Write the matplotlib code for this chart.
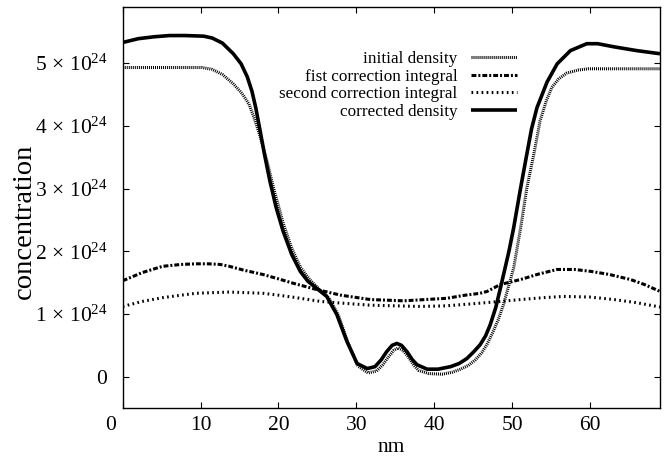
#!/usr/bin/python3

import matplotlib
matplotlib.use('Agg')
import matplotlib.pyplot as plt
from matplotlib.ticker import FuncFormatter
from matplotlib.transforms import ScaledTranslation

# all concentrations below are in units of 1e24, x positions in nm
SCALE = 1e24

initial_x = [0, 5, 10.2, 11.5, 12.8, 14.2, 15.3, 16.2, 16.9, 17.6, 18.5, 19.5, 20.6, 21.7, 22.8, 24.0,
	25.2, 26.5, 27.7, 28.9, 30.2, 31.5, 32.6, 33.4, 34.1, 34.8, 35.4, 36.0, 36.7, 37.4, 38.0,
	39.3, 41.0, 42.3, 43.4, 44.4, 45.3, 46.1, 46.8, 47.5, 48.2, 48.9, 49.5, 50.2, 51.1, 51.9,
	52.8, 53.6, 54.4, 55.1, 56.0, 57.0, 58.5, 59.8, 69]
initial_y = [4.93, 4.93, 4.93, 4.90, 4.82, 4.67, 4.52, 4.35, 4.12, 3.85, 3.45, 2.95, 2.45, 2.05, 1.75, 1.55,
	1.40, 1.25, 0.98, 0.55, 0.17, 0.06, 0.09, 0.19, 0.31, 0.42, 0.46, 0.42, 0.31, 0.18, 0.10,
	0.05, 0.04, 0.07, 0.12, 0.18, 0.27, 0.38, 0.52, 0.70, 0.90, 1.15, 1.42, 1.73, 2.37, 3.01,
	3.55, 4.08, 4.40, 4.61, 4.75, 4.84, 4.89, 4.91, 4.91]

first_x = [0, 2.5, 5.1, 7.5, 9.4, 11, 12.5, 13.7, 15.5, 18.0, 20, 21.9, 24.9, 28, 31.8, 36.1,
	41.6, 44, 45.9, 46.8, 48.5, 51.1, 53.5, 55.8, 58, 60.1, 62.5, 65.2, 67, 69]
first_y = [1.53, 1.66, 1.76, 1.79, 1.80, 1.80, 1.79, 1.76, 1.70, 1.63, 1.56, 1.49, 1.39, 1.30, 1.23, 1.21,
	1.25, 1.30, 1.33, 1.36, 1.47, 1.55, 1.64, 1.71, 1.71, 1.68, 1.63, 1.55, 1.47, 1.36]

second_x = [0, 2.5, 5.1, 7.5, 9.4, 11.5, 13.7, 16, 18, 20, 22.3, 25.4, 28.5, 31.8, 35, 38.2,
	41.5, 44.7, 48.5, 51.1, 54, 56.6, 60, 63.1, 66, 68.6, 69]
second_y = [1.12, 1.20, 1.26, 1.30, 1.33, 1.34, 1.35, 1.34, 1.33, 1.30, 1.26, 1.20, 1.17, 1.14, 1.13, 1.12,
	1.13, 1.16, 1.20, 1.23, 1.26, 1.28, 1.27, 1.23, 1.18, 1.12, 1.11]

corrected_x = [0, 2, 4, 6, 8, 10.4, 11.5, 12.8, 14.2, 15.2, 16.0, 16.6, 17.1, 17.6, 18.2, 18.9, 19.7,
	20.6, 21.7, 22.8, 23.8, 24.9, 26.2, 27.5, 28.8, 30.1, 31.4, 32.4, 33.2, 33.9, 34.6, 35.2,
	35.8, 36.5, 37.2, 37.8, 39.1, 40.5, 42.1, 43.2, 44.2, 45.1, 45.9, 46.6, 47.2, 47.9, 48.5,
	49.1, 49.6, 50.2, 51.1, 51.9, 52.5, 53.2, 54.5, 55.8, 57.5, 59.6, 61, 63.1, 66, 69]
corrected_y = [5.33, 5.39, 5.42, 5.44, 5.44, 5.43, 5.40, 5.32, 5.15, 4.99, 4.78, 4.55, 4.28, 3.95, 3.55,
	3.12, 2.70, 2.32, 1.95, 1.68, 1.52, 1.41, 1.28, 0.99, 0.56, 0.21, 0.13, 0.16, 0.27, 0.40,
	0.50, 0.53, 0.50, 0.40, 0.27, 0.19, 0.12, 0.12, 0.16, 0.21, 0.29, 0.40, 0.51, 0.65, 0.83,
	1.10, 1.41, 1.73, 2.00, 2.37, 3.01, 3.55, 3.95, 4.29, 4.70, 4.99, 5.20, 5.31, 5.31, 5.26,
	5.20, 5.15]

labels = ['initial density', 'fist correction integral', 'second correction integral', 'corrected density']
x_ticks = [0, 10, 20, 30, 40, 50, 60]
y_ticks = [0, 1, 2, 3, 4, 5]


def sci_label(v, pos):
	'''gnuplot style "n x 10^24" tick labels'''
	n = int(round(v / SCALE))
	if n == 0:
		return '0'
	return r'$%d\,\times\,10^{24}$' % n


def scaled(values):
	return [v * SCALE for v in values]


def main():
	plt.rcParams['font.family'] = 'Liberation Serif'
	plt.rcParams['mathtext.fontset'] = 'custom'
	plt.rcParams['mathtext.rm'] = 'Liberation Serif'
	plt.rcParams['mathtext.it'] = 'Liberation Serif:italic'
	plt.rcParams['mathtext.bf'] = 'Liberation Serif:bold'

	fig = plt.figure(figsize=(6.67, 4.59), dpi=100)
	ax = fig.add_axes([0.184, 0.111, 0.8055, 0.8744])

	# hatched grey look of the thick gnuplot dotted line
	ax.plot(initial_x, scaled(initial_y), color='black', linewidth=2.2,
		dashes=(0.33, 0.33), dash_capstyle='butt', label=labels[0])
	ax.plot(first_x, scaled(first_y), color='black', linewidth=2.2,
		dashes=(1.6, 0.65, 0.65, 0.65), dash_capstyle='butt', label=labels[1])
	ax.plot(second_x, scaled(second_y), color='black', linewidth=2.2,
		dashes=(0.55, 1.1), dash_capstyle='butt', label=labels[2])
	ax.plot(corrected_x, scaled(corrected_y), color='black', linewidth=2.6,
		solid_capstyle='butt', label=labels[3])

	ax.set_xlim(0, 69)
	ax.set_ylim(-0.5 * SCALE, 5.9 * SCALE)
	ax.set_xticks(x_ticks)
	ax.set_yticks(scaled(y_ticks))
	ax.yaxis.set_major_formatter(FuncFormatter(sci_label))
	ax.yaxis.get_offset_text().set_visible(False)

	ax.tick_params(direction='in', top=True, right=True, length=4.3, width=0.8, labelsize=15.5)
	ax.tick_params(axis='y', pad=11)
	ax.tick_params(axis='x', pad=6)
	for s in ax.spines.values():
		s.set_linewidth(1.0)

	# gnuplot put the "0" of the x axis a little to the left of the corner
	first = ax.get_xticklabels()[0]
	first.set_transform(first.get_transform() + ScaledTranslation(-0.12, 0, fig.dpi_scale_trans))

	ax.set_xlabel('nm', fontsize=15.5, labelpad=2)
	ax.set_ylabel('concentration', fontsize=20.5)
	ax.yaxis.set_label_coords(-0.16, 0.465)

	ax.legend(loc='upper right', bbox_to_anchor=(0.734, 0.89), frameon=False,
		markerfirst=False, fontsize=12.3, handlelength=2.7, handletextpad=0.8,
		labelspacing=0.1, borderpad=0, borderaxespad=0)

	fig.savefig('out.png', dpi=100)


if __name__ == '__main__':
	main()
